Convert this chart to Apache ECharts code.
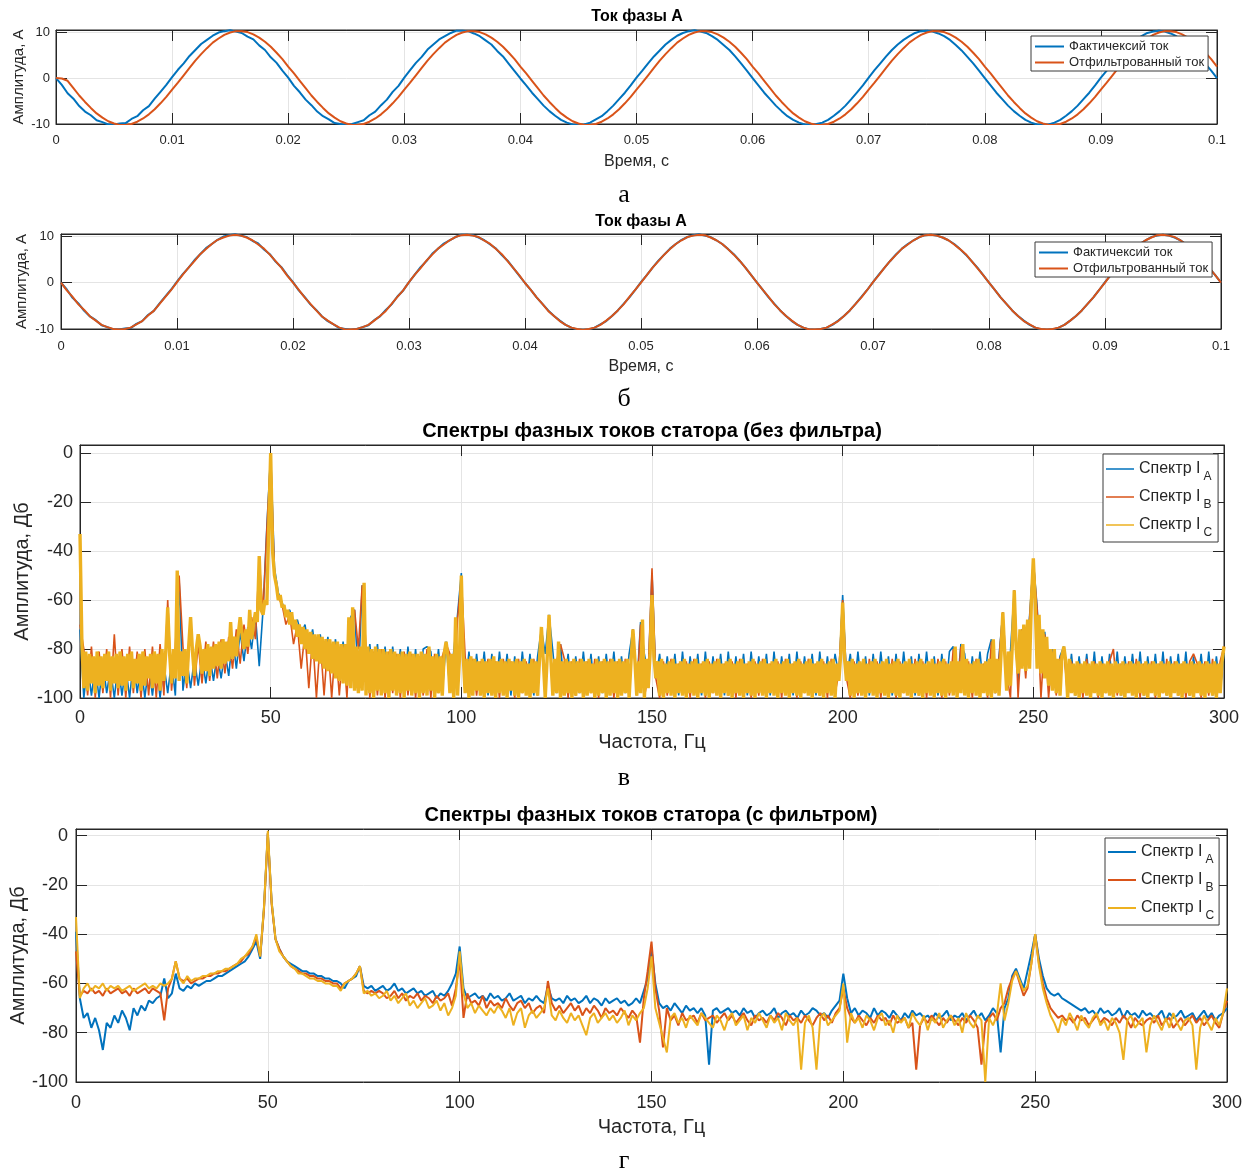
<!DOCTYPE html>
<html><head><meta charset="utf-8">
<script src="https://cdn.jsdelivr.net/npm/echarts@6/dist/echarts.min.js"></script>
<style>html,body{margin:0;padding:0;background:#fff}#c{width:1255px;height:1173px}</style>
</head><body><div id="c"></div>
<script>
// ---------- sampling grids ----------
const timeStep = 0.0005;   // s, sine plots (а, б)
const freqStep = 1;        // Hz, spectra
const freqStepFine = 0.5;  // Hz, phase C spectrum in (в)

// ---------- а: Ток фазы А (actual vs filtered with delay) ----------
const actualA = [
0,-1.5,-3.3,-4.5,-6.1,-7.3,-8.1,-9.2,-9.6,-10.1,
-10.1,-9.9,-9.8,-8.9,-8.3,-7.0,-6.1,-4.5,-3.0,-1.5,
0.2,1.8,3.2,4.8,6.1,7.4,8.3,9.2,9.9,10.2,
10.4,10.1,9.8,9.0,8.4,7.1,6.1,4.5,3.3,1.6,
0.1,-1.7,-3.1,-4.7,-5.9,-7.3,-8.3,-9.0,-9.8,-10.0,
-10.2,-10.0,-9.6,-9.2,-8.1,-7.3,-5.9,-4.7,-3.0,-1.7,
0.1,1.7,3.3,4.6,6.2,7.3,8.4,9.1,9.8,10.3,
10.3,10.2,9.7,9.1,8.2,7.3,5.9,4.7,3.1,1.5,
-0.1,-1.6,-3.2,-4.6,-6.0,-7.2,-8.2,-9.1,-9.7,-10.1,
-10.2,-10.1,-9.7,-9.0,-8.3,-7.2,-6.0,-4.6,-3.2,-1.6,
0.1,1.6,3.2,4.7,6.0,7.3,8.3,9.2,9.8,10.2,
10.4,10.1,9.8,9.1,8.3,7.2,6.1,4.7,3.2,1.6,
0.0,-1.6,-3.2,-4.6,-6.0,-7.2,-8.3,-9.1,-9.7,-10.1,
-10.2,-10.0,-9.7,-9.1,-8.2,-7.2,-6.0,-4.6,-3.1,-1.6,
0.1,1.7,3.2,4.7,6.1,7.3,8.3,9.1,9.8,10.2,
10.3,10.1,9.7,9.1,8.3,7.2,6.0,4.6,3.2,1.6,
0.0,-1.6,-3.2,-4.6,-6.0,-7.2,-8.2,-9.1,-9.7,-10.1,
-10.2,-10.1,-9.7,-9.1,-8.2,-7.2,-6.0,-4.6,-3.2,-1.6,
0.1,1.6,3.2,4.6,6.0,7.3,8.3,9.1,9.8,10.1,
10.3,10.1,9.7,9.1,8.2,7.2,6.0,4.6,3.1,1.6,
0.0];
const filteredA = [
0,-0.1,
-0.6,-2.2,-3.8,-5.2,-6.5,-7.7,-8.6,-9.4,-9.9,-10.2,-10.2,-10.0,-9.5,-8.8,-7.9,-6.8,-5.5,-4.1,-2.5,-1.0,
0.6,2.2,3.8,5.2,6.5,7.7,8.6,9.4,9.9,10.2,10.2,10.0,9.5,8.8,7.9,6.8,5.5,4.1,2.5,1.0,
-0.6,-2.2,-3.8,-5.2,-6.5,-7.7,-8.6,-9.4,-9.9,-10.2,-10.2,-10.0,-9.5,-8.8,-7.9,-6.8,-5.5,-4.1,-2.5,-1.0,
0.6,2.2,3.8,5.2,6.5,7.7,8.6,9.4,9.9,10.2,10.2,10.0,9.5,8.8,7.9,6.8,5.5,4.1,2.5,1.0,
-0.6,-2.2,-3.8,-5.2,-6.5,-7.7,-8.6,-9.4,-9.9,-10.2,-10.2,-10.0,-9.5,-8.8,-7.9,-6.8,-5.5,-4.1,-2.5,-1.0,
0.6,2.2,3.8,5.2,6.5,7.7,8.6,9.4,9.9,10.2,10.2,10.0,9.5,8.8,7.9,6.8,5.5,4.1,2.5,1.0,
-0.6,-2.2,-3.8,-5.2,-6.5,-7.7,-8.6,-9.4,-9.9,-10.2,-10.2,-10.0,-9.5,-8.8,-7.9,-6.8,-5.5,-4.1,-2.5,-1.0,
0.6,2.2,3.8,5.2,6.5,7.7,8.6,9.4,9.9,10.2,10.2,10.0,9.5,8.8,7.9,6.8,5.5,4.1,2.5,1.0,
-0.6,-2.2,-3.8,-5.2,-6.5,-7.7,-8.6,-9.4,-9.9,-10.2,-10.2,-10.0,-9.5,-8.8,-7.9,-6.8,-5.5,-4.1,-2.5,-1.0,
0.6,2.2,3.8,5.2,6.5,7.7,8.6,9.4,9.9,10.2,10.2,10.0,9.5,8.8,7.9,6.8,5.5,4.1,2.5];

// ---------- б: Ток фазы А (actual vs filtered, no delay) ----------
const actualB = actualA;
const filteredB = [
0,-1.7,-3.1,-4.7,-5.9,-7.3,-8.2,-9.1,-9.6,-10.0,-10.1,-10.0,-9.7,-9.0,-8.3,-7.1,-6.1,-4.6,-3.1,-1.6,
0.1,1.7,3.2,4.6,6.1,7.2,8.3,9.2,9.7,10.1,10.3,10.1,9.7,9.1,8.2,7.3,6.0,4.6,3.2,1.5,
0.0,-1.6,-3.2,-4.6,-6.0,-7.3,-8.2,-9.0,-9.7,-10.1,-10.1,-10.0,-9.6,-9.1,-8.2,-7.2,-6.1,-4.6,-3.1,-1.7,
0.1,1.7,3.1,4.7,6.0,7.3,8.2,9.1,9.8,10.2,10.3,10.1,9.8,9.0,8.3,7.2,6.1,4.6,3.1,1.6,
-0.1,-1.6,-3.2,-4.6,-6.1,-7.2,-8.3,-9.1,-9.7,-10.0,-10.2,-10.0,-9.7,-9.1,-8.2,-7.2,-6.0,-4.7,-3.1,-1.6,
0.0,1.6,3.2,4.6,6.0,7.2,8.3,9.1,9.8,10.1,10.3,10.2,9.7,9.1,8.3,7.2,6.0,4.7,3.2,1.6,
0.0,-1.6,-3.1,-4.7,-6.0,-7.2,-8.2,-9.1,-9.7,-10.1,-10.1,-10.0,-9.7,-9.0,-8.3,-7.2,-6.0,-4.6,-3.2,-1.6,
0.1,1.6,3.2,4.7,6.0,7.3,8.2,9.1,9.8,10.2,10.3,10.1,9.7,9.1,8.2,7.2,6.1,4.6,3.1,1.6,
0.0,-1.6,-3.2,-4.6,-6.0,-7.2,-8.3,-9.0,-9.7,-10.0,-10.1,-10.0,-9.7,-9.1,-8.2,-7.2,-6.0,-4.6,-3.2,-1.6,
0.0,1.7,3.2,4.6,6.1,7.2,8.3,9.1,9.7,10.2,10.3,10.1,9.8,9.1,8.2,7.2,6.0,4.7,3.1,1.6,
0.0];

// ---------- в: spectra without filter, dB, 0..300 Hz ----------
const specA_raw = [
-72,-100,-86,-99,-87,-100,-85,-98,-88,-100,
-86,-99,-87,-100,-85,-98,-86,-100,-87,-99,
-85,-100,-86,-98,-85,-99,-52,-97,-84,-96,
-84,-95,-83,-94,-82,-93,-82,-92,-81,-91,
-75,-88,-73,-85,-71,-80,-66,-87,-64,-30,
0,-47,-57,-61,-66,-64,-70,-68,-74,-70,
-80,-72,-84,-74,-87,-75,-89,-76,-91,-77,
-93,-67,-64,-93,-54,-94,-78,-95,-78,-96,
-79,-97,-79,-96,-80,-98,-79,-97,-80,-98,
-80,-79,-81,-97,-80,-98,-77,-97,-81,-66,
-49,-97,-81,-98,-82,-97,-81,-99,-82,-98,
-81,-97,-82,-99,-83,-98,-81,-97,-82,-99,
-83,-72,-82,-66,-81,-98,-78,-97,-82,-99,
-83,-98,-81,-97,-82,-99,-83,-98,-82,-97,
-81,-99,-83,-98,-82,-72,-97,-69,-82,-91,
-49,-92,-82,-98,-83,-97,-82,-99,-81,-98,
-83,-97,-82,-99,-81,-98,-83,-97,-82,-99,
-81,-98,-83,-97,-82,-99,-81,-98,-83,-97,
-82,-99,-81,-98,-83,-97,-82,-99,-81,-98,
-83,-97,-82,-99,-81,-98,-83,-97,-82,-91,
-58,-92,-82,-98,-81,-97,-83,-99,-82,-98,
-81,-97,-83,-99,-82,-98,-81,-97,-83,-99,
-82,-98,-81,-97,-83,-99,-82,-98,-81,-79,
-97,-78,-82,-99,-83,-98,-81,-97,-82,-76,
-98,-83,-65,-96,-81,-56,-93,-72,-87,-67,
-44,-63,-89,-73,-94,-80,-97,-83,-79,-98,
-82,-99,-83,-97,-82,-98,-81,-99,-83,-97,
-82,-98,-81,-99,-83,-97,-82,-98,-81,-99,
-83,-97,-82,-98,-81,-99,-83,-97,-82,-98,
-81,-99,-83,-97,-82,-98,-81,-99,-83,-97,
-82];
const specB_raw = [
-70,-80,-99,-79,-100,-81,-98,-80,-100,-74,
-99,-80,-100,-79,-98,-81,-100,-80,-99,-79,
-100,-78,-99,-60,-97,-79,-50,-79,-96,-68,
-95,-78,-94,-77,-93,-77,-92,-76,-90,-75,
-88,-72,-86,-70,-82,-67,-76,-44,-65,-31,
-1,-49,-59,-62,-70,-66,-78,-70,-88,-73,
-96,-75,-100,-76,-99,-77,-100,-78,-99,-79,
-100,-68,-64,-80,-54,-79,-100,-81,-99,-80,
-100,-81,-98,-82,-100,-81,-99,-82,-100,-83,
-99,-80,-100,-82,-98,-83,-78,-82,-100,-68,
-51,-83,-100,-84,-99,-85,-100,-84,-98,-85,
-100,-84,-99,-85,-100,-84,-98,-85,-100,-84,
-99,-72,-100,-67,-98,-85,-78,-84,-100,-85,
-99,-84,-100,-85,-98,-84,-100,-85,-99,-84,
-100,-85,-98,-84,-100,-72,-99,-70,-100,-90,
-47,-92,-100,-85,-99,-84,-100,-86,-98,-85,
-100,-84,-99,-86,-100,-85,-98,-84,-100,-86,
-99,-85,-100,-84,-98,-86,-100,-85,-99,-84,
-100,-86,-98,-85,-100,-84,-99,-86,-100,-85,
-98,-84,-100,-86,-99,-85,-100,-84,-98,-90,
-60,-92,-100,-85,-99,-86,-100,-84,-98,-85,
-100,-86,-99,-84,-100,-85,-98,-86,-100,-84,
-99,-85,-100,-86,-98,-84,-100,-85,-99,-80,
-100,-79,-98,-85,-100,-84,-99,-86,-100,-77,
-98,-84,-65,-90,-100,-56,-100,-72,-92,-68,
-44,-64,-100,-74,-100,-81,-99,-84,-80,-100,
-85,-98,-86,-100,-84,-99,-85,-100,-86,-98,
-85,-80,-99,-86,-100,-85,-98,-84,-100,-86,
-99,-85,-100,-86,-98,-84,-100,-85,-99,-86,
-100,-85,-82,-86,-100,-85,-99,-84,-100,-85,
-79];
// phase C, 0.5 Hz resolution (0 .. 300 Hz)
const specC_raw = [
-33,-78,-96,-81,-97,-82,-94,-83,-98,-81,
-95,-83,-96,-82,-93,-81,-97,-83,-94,-82,
-96,-81,-95,-83,-97,-82,-93,-81,-96,-84,
-94,-82,-97,-81,-95,-83,-92,-82,-96,-81,
-94,-82,-97,-80,-93,-81,-63,-82,-94,-80,
-92,-48,-93,-81,-91,-80,-94,-79,-67,-81,
-91,-80,-74,-79,-90,-80,-89,-78,-91,-79,
-88,-78,-87,-77,-88,-76,-86,-77,-85,-69,
-84,-75,-83,-74,-67,-74,-80,-72,-79,-64,
-76,-70,-65,-69,-42,-64,-66,-60,-62,-30,
0,-40,-50,-54,-60,-58,-63,-62,-67,-64,
-70,-65,-72,-68,-75,-70,-78,-71,-80,-72,
-82,-73,-84,-74,-85,-74,-86,-75,-88,-76,
-89,-76,-90,-77,-92,-77,-93,-78,-94,-78,
-95,-67,-96,-63,-97,-79,-98,-79,-97,-53,
-99,-79,-98,-80,-100,-79,-97,-80,-99,-80,
-98,-81,-100,-80,-97,-81,-99,-82,-98,-81,
-100,-82,-97,-81,-99,-82,-98,-82,-100,-81,
-98,-82,-99,-79,-97,-83,-100,-82,-98,-83,
-99,-82,-77,-83,-98,-82,-100,-67,-99,-84,
-50,-83,-98,-84,-100,-83,-99,-84,-97,-85,
-99,-84,-100,-85,-98,-84,-99,-83,-100,-85,
-98,-84,-99,-85,-100,-84,-97,-85,-99,-84,
-100,-85,-98,-84,-99,-86,-100,-84,-98,-85,
-99,-84,-71,-85,-100,-84,-66,-85,-99,-84,
-98,-77,-100,-85,-99,-84,-98,-85,-100,-84,
-99,-85,-98,-84,-100,-85,-99,-84,-98,-86,
-100,-84,-99,-85,-98,-84,-100,-85,-99,-84,
-98,-85,-100,-84,-99,-85,-98,-84,-100,-85,
-72,-84,-99,-85,-98,-68,-100,-84,-96,-82,
-58,-83,-92,-85,-99,-84,-100,-86,-98,-85,
-99,-84,-100,-86,-98,-85,-99,-84,-100,-86,
-98,-85,-99,-84,-100,-86,-98,-85,-99,-84,
-100,-86,-98,-85,-99,-84,-100,-86,-98,-85,
-99,-84,-100,-86,-98,-85,-99,-84,-100,-86,
-98,-85,-99,-84,-100,-86,-98,-85,-99,-84,
-100,-86,-98,-85,-99,-84,-100,-86,-98,-85,
-99,-84,-100,-86,-98,-85,-99,-84,-100,-86,
-98,-85,-99,-84,-100,-86,-98,-85,-99,-84,
-100,-86,-98,-85,-99,-84,-100,-86,-93,-82,
-61,-84,-93,-85,-99,-84,-100,-86,-98,-85,
-99,-84,-100,-86,-98,-85,-99,-84,-100,-86,
-98,-85,-99,-84,-100,-86,-98,-85,-99,-84,
-100,-86,-98,-85,-99,-84,-100,-86,-98,-85,
-99,-84,-100,-86,-98,-85,-99,-84,-100,-86,
-98,-85,-99,-84,-100,-86,-98,-85,-99,-79,
-100,-85,-98,-78,-99,-84,-100,-86,-98,-85,
-99,-84,-100,-86,-98,-85,-99,-84,-100,-76,
-98,-84,-99,-83,-65,-82,-97,-81,-95,-78,
-56,-80,-90,-72,-88,-70,-89,-68,-88,-60,
-43,-62,-88,-66,-90,-72,-92,-75,-95,-80,
-97,-80,-98,-84,-99,-83,-79,-85,-100,-84,
-98,-86,-99,-85,-100,-86,-98,-85,-99,-86,
-100,-85,-98,-86,-99,-85,-100,-86,-98,-85,
-99,-86,-100,-85,-98,-86,-99,-85,-100,-86,
-98,-85,-99,-86,-100,-85,-98,-86,-99,-85,
-100,-86,-98,-85,-99,-86,-100,-85,-98,-86,
-99,-85,-100,-86,-98,-85,-99,-86,-100,-85,
-98,-86,-99,-85,-100,-86,-98,-85,-99,-86,
-100,-85,-98,-86,-99,-85,-100,-86,-98,-85,
-79];

// ---------- г: spectra with filter, dB, 0..300 Hz ----------
const specA_flt = [
-39,-66,-74,-72,-78,-74,-79,-87,-76,-78,
-73,-76,-71,-74,-79,-70,-73,-69,-71,-67,
-68,-66,-65,-58,-66,-64,-56,-62,-63,-61,
-62,-60,-61,-60,-59,-59,-58,-57,-57,-56,
-55,-54,-53,-52,-51,-49,-46,-43,-50,-29,
1,-27,-42,-46,-49,-51,-52,-53,-54,-55,
-55,-56,-56,-57,-57,-58,-58,-59,-59,-60,
-62,-59,-58,-57,-53,-61,-62,-61,-63,-62,
-61,-63,-62,-60,-63,-62,-64,-63,-62,-64,
-63,-65,-64,-63,-66,-64,-65,-63,-60,-56,
-45,-62,-66,-65,-64,-66,-65,-67,-64,-66,
-65,-67,-66,-64,-67,-66,-65,-68,-66,-67,
-65,-67,-68,-61,-66,-67,-66,-68,-65,-67,
-66,-68,-67,-65,-68,-66,-67,-69,-66,-68,
-67,-66,-68,-67,-69,-68,-66,-68,-63,-58,
-46,-60,-68,-70,-69,-71,-68,-70,-72,-69,
-71,-70,-72,-70,-73,-93,-71,-70,-72,-71,
-70,-72,-71,-73,-70,-72,-71,-74,-72,-71,
-73,-72,-70,-74,-72,-71,-73,-72,-74,-71,
-73,-72,-70,-71,-73,-72,-74,-71,-69,-67,
-56,-66,-72,-70,-73,-71,-72,-74,-70,-73,
-71,-72,-74,-71,-73,-75,-72,-74,-71,-73,
-72,-74,-73,-75,-72,-74,-73,-71,-75,-73,
-74,-72,-75,-73,-71,-74,-72,-75,-73,-70,
-72,-88,-70,-66,-57,-54,-58,-62,-55,-48,
-40,-50,-57,-62,-64,-65,-64,-66,-67,-68,
-69,-70,-71,-70,-72,-71,-73,-70,-72,-71,
-73,-72,-70,-74,-71,-73,-72,-74,-71,-73,
-72,-74,-73,-71,-75,-72,-74,-73,-71,-74,
-73,-72,-75,-73,-71,-74,-72,-75,-73,-72,
-70];
const specB_flt = [
-47,-65,-63,-64,-62,-64,-63,-65,-62,-64,
-63,-62,-64,-63,-65,-62,-64,-63,-62,-64,
-62,-63,-64,-75,-62,-58,-51,-58,-59,-58,
-60,-59,-58,-58,-57,-57,-56,-56,-55,-55,
-54,-53,-52,-51,-49,-48,-45,-41,-49,-30,
1,-28,-42,-46,-49,-51,-53,-54,-55,-56,
-56,-57,-57,-58,-58,-59,-59,-60,-60,-62,
-60,-59,-58,-56,-53,-63,-64,-63,-64,-63,
-64,-66,-65,-63,-66,-64,-67,-65,-66,-64,
-67,-65,-66,-68,-65,-67,-66,-64,-69,-62,
-50,-74,-64,-68,-67,-69,-65,-70,-67,-69,
-68,-70,-66,-69,-71,-68,-67,-70,-68,-72,
-70,-69,-72,-59,-68,-71,-69,-72,-70,-68,
-71,-69,-73,-70,-72,-69,-71,-74,-70,-72,
-71,-73,-70,-72,-74,-71,-73,-84,-66,-55,
-43,-62,-71,-86,-70,-75,-73,-77,-72,-75,
-74,-73,-76,-72,-75,-74,-73,-76,-74,-72,
-75,-73,-76,-74,-72,-75,-77,-73,-75,-74,
-76,-73,-75,-72,-74,-77,-73,-75,-74,-76,
-73,-75,-77,-74,-72,-75,-73,-76,-72,-70,
-62,-70,-74,-76,-73,-75,-77,-74,-76,-73,
-75,-74,-77,-73,-76,-75,-74,-78,-76,-95,
-77,-74,-76,-73,-75,-77,-74,-76,-73,-75,
-77,-74,-76,-73,-75,-78,-93,-76,-74,-72,
-75,-70,-68,-62,-58,-55,-60,-65,-62,-52,
-40,-52,-60,-66,-70,-72,-74,-73,-75,-74,
-76,-73,-75,-74,-77,-75,-73,-76,-74,-75,
-77,-74,-76,-73,-75,-78,-74,-76,-77,-75,
-74,-76,-73,-77,-75,-74,-78,-76,-74,-77,
-75,-73,-76,-74,-77,-75,-73,-76,-78,-72,
-67];
const specC_flt = [
-33,-66,-62,-60,-63,-61,-62,-60,-63,-61,
-62,-61,-63,-62,-61,-63,-62,-61,-60,-62,
-61,-62,-60,-61,-60,-58,-51,-58,-60,-57,
-59,-58,-58,-57,-57,-56,-56,-55,-55,-54,
-54,-53,-52,-50,-49,-47,-45,-40,-49,-29,
2,-27,-42,-47,-49,-51,-53,-54,-56,-56,
-57,-58,-58,-59,-59,-60,-60,-61,-61,-63,
-60,-59,-58,-56,-53,-64,-63,-65,-64,-66,
-65,-63,-67,-65,-68,-66,-64,-69,-67,-70,
-68,-66,-70,-69,-67,-71,-68,-73,-70,-65,
-47,-64,-70,-68,-72,-69,-71,-73,-70,-72,
-69,-71,-74,-70,-77,-72,-70,-78,-73,-71,
-74,-72,-70,-62,-73,-75,-71,-74,-76,-72,
-75,-73,-77,-81,-74,-72,-76,-74,-72,-75,
-73,-76,-74,-71,-77,-73,-75,-72,-70,-62,
-49,-70,-76,-82,-88,-74,-72,-76,-74,-78,
-73,-75,-77,-72,-74,-76,-78,-73,-75,-79,
-74,-72,-77,-75,-73,-79,-74,-76,-72,-75,
-78,-73,-76,-74,-79,-72,-75,-77,-74,-95,
-76,-73,-78,-95,-74,-72,-77,-75,-73,-71,
-60,-84,-72,-76,-74,-78,-73,-75,-79,-74,
-72,-77,-75,-80,-73,-76,-74,-78,-72,-75,
-77,-73,-79,-74,-76,-72,-78,-75,-73,-77,
-74,-80,-72,-76,-78,-73,-75,-100,-74,-77,
-73,-60,-75,-68,-59,-55,-59,-63,-61,-52,
-40,-53,-62,-68,-73,-76,-80,-74,-77,-72,
-75,-79,-73,-76,-78,-74,-72,-77,-75,-79,
-74,-76,-80,-91,-75,-73,-78,-76,-74,-88,
-77,-73,-76,-79,-74,-78,-72,-76,-79,-75,
-74,-77,-95,-78,-73,-76,-79,-74,-77,-72,
-62];

// ---------- texts ----------
const titles = ['Ток фазы А', 'Ток фазы А', 'Спектры фазных токов статора (без фильтра)', 'Спектры фазных токов статора (с фильтром)'];
const captions = ['а', 'б', 'в', 'г'];
const sineLegend = ['Фактичексий ток', 'Отфильтрованный ток'];
const specLegendMain = 'Спектр I';
const specLegendSub = ['A', 'B', 'C'];
const timeAxisName = 'Время, с', freqAxisName = 'Частота, Гц';
const ampAxisName = 'Амплитуда, А', dbAxisName = 'Амплитуда, Дб';

// ---------- styling ----------
const BLUE = '#0072BD', ORANGE = '#D95319', YELLOW = '#EDB120';
const TXT = '#262626', GRIDC = '#e4e4e4';
const FONT = '"Liberation Sans", Arial, sans-serif';
const SERIF = '"Liberation Serif", "Times New Roman", serif';

function pairs(vals, step) { return vals.map((v, i) => [+(i * step).toFixed(6), v]); }

const xAxis = [], yAxis = [];
function addAxes(gi, xc, yc) {
  const common = (c) => ({
    type: 'value', gridIndex: gi, min: c.min, max: c.max, interval: c.interval,
    axisLine: { show: true, onZero: false, lineStyle: { color: TXT, width: 1 } },
    axisTick: { show: true, inside: true, length: 11, lineStyle: { color: TXT, width: 1 } }
  });
  xAxis.push(Object.assign(common(xc), {
    position: 'bottom',
    axisLabel: { margin: xc.margin, fontSize: xc.fs, color: TXT, fontFamily: FONT },
    splitLine: { show: true, lineStyle: { color: GRIDC, width: 1 } },
    name: xc.name, nameLocation: 'middle', nameGap: xc.nameGap, nameMoveOverlap: false,
    nameTextStyle: { fontSize: xc.nameFs, color: TXT, fontFamily: FONT }
  }));
  xAxis.push(Object.assign(common(xc), { position: 'top', axisLabel: { show: false }, splitLine: { show: false } }));
  yAxis.push(Object.assign(common(yc), {
    position: 'left',
    axisLabel: { margin: yc.margin, fontSize: yc.fs, color: TXT, fontFamily: FONT, showMaxLabel: false },
    splitLine: { show: true, lineStyle: { color: GRIDC, width: 1 } },
    name: yc.name, nameLocation: 'middle', nameGap: yc.nameGap, nameRotate: 90, nameMoveOverlap: false,
    nameTextStyle: { fontSize: yc.nameFs, color: TXT, fontFamily: FONT }
  }));
  yAxis.push(Object.assign(common(yc), { position: 'right', axisLabel: { show: false }, splitLine: { show: false } }));
}

const grids = [
  { left: 56, top: 30, width: 1161, height: 94 },
  { left: 61, top: 234, width: 1160, height: 95 },
  { left: 80, top: 445, width: 1144, height: 253 },
  { left: 76, top: 829, width: 1151, height: 253 }
].map(g => Object.assign({ show: true, borderColor: TXT, borderWidth: 1, backgroundColor: '#fff',
  containLabel: false, outerBoundsMode: 'none' }, g));

addAxes(0, { min: 0, max: 0.1, interval: 0.01, margin: 10, fs: 13, name: timeAxisName, nameGap: 30, nameFs: 16 },
           { min: -10, max: 10.45, interval: 10, margin: 6, fs: 13, name: ampAxisName, nameGap: 30, nameFs: 15 });
addAxes(1, { min: 0, max: 0.1, interval: 0.01, margin: 11, fs: 13, name: timeAxisName, nameGap: 30, nameFs: 16 },
           { min: -10, max: 10.45, interval: 10, margin: 7, fs: 13, name: ampAxisName, nameGap: 32, nameFs: 15 });
addAxes(2, { min: 0, max: 300, interval: 50, margin: 11, fs: 18, name: freqAxisName, nameGap: 34, nameFs: 20 },
           { min: -100, max: 3.3, interval: 20, margin: 7, fs: 18, name: dbAxisName, nameGap: 48, nameFs: 20 });
addAxes(3, { min: 0, max: 300, interval: 50, margin: 12, fs: 18, name: freqAxisName, nameGap: 35, nameFs: 20 },
           { min: -100, max: 2.7, interval: 20, margin: 8, fs: 18, name: dbAxisName, nameGap: 48, nameFs: 20 });

function line(id, gi, data, color, width) {
  return { type: 'line', name: id, xAxisIndex: gi * 2, yAxisIndex: gi * 2, data, symbol: 'none', showSymbol: false,
    lineStyle: { color, width, join: 'bevel' }, itemStyle: { color }, animation: false, silent: true, z: 2 };
}
const series = [
  line('a1', 0, pairs(actualA, timeStep), BLUE, 2),
  line('a2', 0, pairs(filteredA, timeStep), ORANGE, 2),
  line('b1', 1, pairs(actualB, timeStep), BLUE, 2),
  line('b2', 1, pairs(filteredB, timeStep), ORANGE, 2),
  line('v1', 2, pairs(specA_raw, freqStep), BLUE, 1.6),
  line('v2', 2, pairs(specB_raw, freqStep), ORANGE, 1.6),
  line('v3', 2, pairs(specC_raw, freqStepFine), YELLOW, 3.4),
  line('g1', 3, pairs(specA_flt, freqStep), BLUE, 2),
  line('g2', 3, pairs(specB_flt, freqStep), ORANGE, 2),
  line('g3', 3, pairs(specC_flt, freqStep), YELLOW, 2)
];

const legendLabel = { a1: sineLegend[0], a2: sineLegend[1], b1: sineLegend[0], b2: sineLegend[1] };
const subOf = { v1: 0, v2: 1, v3: 2, g1: 0, g2: 1, g3: 2 };
const richSpec = {
  m: { fontSize: 16, lineHeight: 27, color: TXT, fontFamily: FONT },
  s: { fontSize: 12, lineHeight: 27, color: TXT, fontFamily: FONT, padding: [16, 0, 0, 3] }
};
function sineLegendCfg(left, top, names) {
  return { data: names, orient: 'vertical', left, top, padding: [4, 4, 2, 4], itemGap: 3, itemWidth: 29, itemHeight: 2,
    icon: 'rect', backgroundColor: '#fff', borderColor: '#3a3a3a', borderWidth: 1, borderRadius: 0, selectedMode: false,
    textStyle: { fontSize: 13, color: TXT, fontFamily: FONT }, formatter: n => legendLabel[n] };
}
function specLegendCfg(left, top, names, pad, ih) {
  return { data: names, orient: 'vertical', left, top, padding: pad, itemGap: 0, itemWidth: 28, itemHeight: ih,
    icon: 'rect', backgroundColor: '#fff', borderColor: '#3a3a3a', borderWidth: 1, borderRadius: 0, selectedMode: false,
    textStyle: { fontSize: 16, color: TXT, fontFamily: FONT, rich: richSpec },
    formatter: n => '{m|' + specLegendMain + '}{s|' + specLegendSub[subOf[n]] + '}' };
}

const titleCfg = (text, cx, top, fs) => ({ text, left: cx, top, textAlign: 'center', padding: 0,
  textStyle: { fontSize: fs, fontWeight: 'bold', color: '#000', fontFamily: FONT } });
const capCfg = (text, cy) => ({ text, left: 624, top: cy - 13, textAlign: 'center', padding: 0,
  textStyle: { fontSize: 26, fontWeight: 'normal', color: '#000', fontFamily: SERIF } });

const option = {
  animation: false,
  backgroundColor: '#fff',
  title: [
    titleCfg(titles[0], 637, 9, 16), titleCfg(titles[1], 641, 214, 16),
    titleCfg(titles[2], 652, 421, 20), titleCfg(titles[3], 651, 805, 20),
    capCfg(captions[0], 195), capCfg(captions[1], 399), capCfg(captions[2], 778), capCfg(captions[3], 1161)
  ],
  legend: [
    sineLegendCfg(1031, 36, ['a1', 'a2']),
    sineLegendCfg(1035, 242, ['b1', 'b2']),
    specLegendCfg(1103, 454, ['v1', 'v2', 'v3'], [1, 6, 3, 3], 1.5),
    specLegendCfg(1105, 838, ['g1', 'g2', 'g3'], [0, 5, 3, 3], 2)
  ],
  grid: grids, xAxis, yAxis, series
};
const chart = echarts.init(document.getElementById('c'), null, { renderer: 'canvas' });
chart.setOption(option);
</script></body></html>
